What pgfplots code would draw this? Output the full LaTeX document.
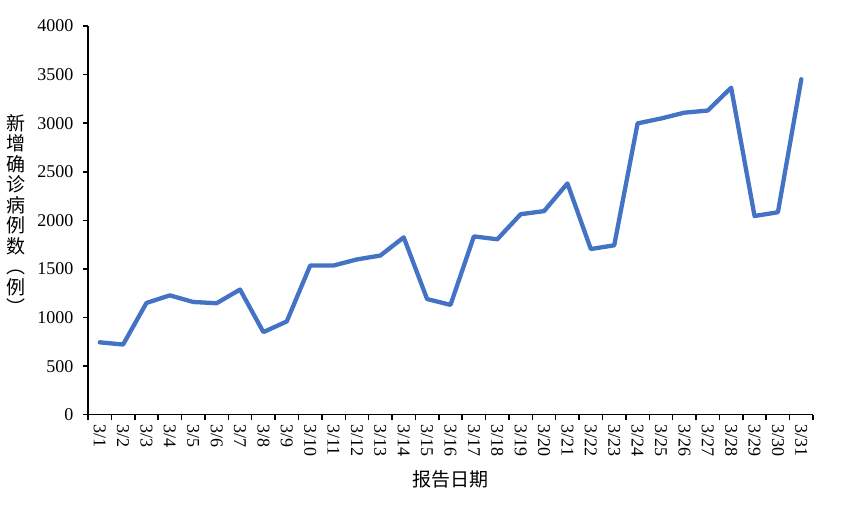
\documentclass[border=0pt]{standalone}
\usepackage{pgfplots}
\pgfplotsset{compat=1.18}
\usepackage{fontspec}
\setmainfont{Liberation Serif}
\newfontfamily\cjk{Noto Sans CJK SC}
\definecolor{lineblue}{RGB}{68,114,196}
\begin{document}
\begin{tikzpicture}
\begin{axis}[
  scale only axis,
  width=725bp, height=388.7bp,
  xmin=-0.5, xmax=30.5,
  ymin=0, ymax=4000,
  ytick={0,500,...,4000},
  xtick={0,...,30},
  xticklabels={3/1,3/2,3/3,3/4,3/5,3/6,3/7,3/8,3/9,3/10,3/11,3/12,3/13,3/14,3/15,3/16,3/17,3/18,3/19,3/20,3/21,3/22,3/23,3/24,3/25,3/26,3/27,3/28,3/29,3/30,3/31},
  minor xtick={-0.5,0.5,...,30.5},
  axis lines*=left,
  axis line style={line width=1.5bp, black},
  tick align=outside,
  major x tick style={draw=none},
  major tick length=5bp,
  minor tick length=5bp,
  every tick/.style={black, line width=1.5bp},
  tick style={black, line width=1.5bp},
  /pgf/number format/assume math mode=true,
  /pgf/number format/set thousands separator={},
  yticklabel style={font=\fontsize{18bp}{20bp}\selectfont, xshift=-6bp},
  xticklabel style={font=\fontsize{18bp}{20bp}\selectfont, rotate=-90, anchor=west, xshift=1bp},
  xlabel={报告日期},
  xlabel style={font=\cjk\fontsize{19bp}{21bp}\selectfont, at={(rel axis cs:0.5,0)}, anchor=center, yshift=-65bp},
  ylabel={新\\增\\确\\诊\\病\\例\\数\\︵\\例\\︶},
  ylabel style={font=\cjk\fontsize{19bp}{20.5bp}\selectfont, rotate=-90, align=center, at={(rel axis cs:0,0.5)}, anchor=center, xshift=-72bp, yshift=6bp},
  clip=false,
]
\addplot[lineblue, line width=4.3bp, line join=round, line cap=round] coordinates {
(0,745) (1,722) (2,1150) (3,1228) (4,1160) (5,1147) (6,1288) (7,850) (8,960) (9,1535)
(10,1535) (11,1598) (12,1638) (13,1825) (14,1190) (15,1130) (16,1835) (17,1805) (18,2063) (19,2095)
(20,2380) (21,1705) (22,1743) (23,2998) (24,3048) (25,3108) (26,3130) (27,3365) (28,2045) (29,2083) (30,3452)
};
\end{axis}
\path (current axis.south west) ++(-88bp,-91.3bp) rectangle ++(862bp,506bp);
\end{tikzpicture}
\end{document}
